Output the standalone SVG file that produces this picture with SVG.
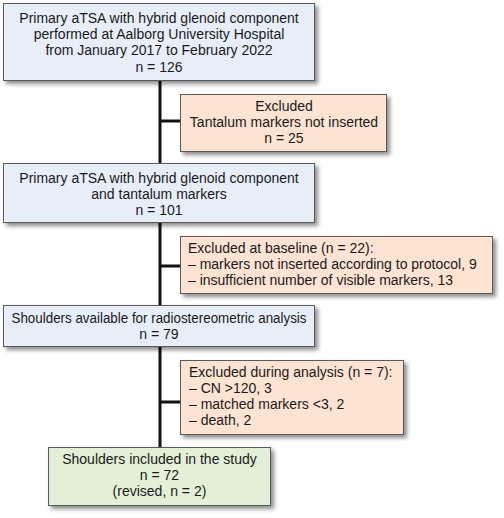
<svg xmlns="http://www.w3.org/2000/svg" width="504" height="518" viewBox="0 0 504 518">
<defs>
<filter id="sh" x="-10%" y="-10%" width="125%" height="135%">
<feDropShadow dx="3" dy="3" stdDeviation="2" flood-color="#000" flood-opacity="0.45"/>
</filter>
<style>
.box{stroke:#5a5a5a;stroke-width:1;filter:url(#sh)}
.blue{fill:#e7eef8}
.orange{fill:#fde3d2}
.green{fill:#e3efd7}
text{font-family:"Liberation Sans",Arial,sans-serif;font-size:14px;fill:#1a1a1a}
.c{text-anchor:middle}
.conn{stroke:#111;stroke-width:3;fill:none}
</style>
</defs>
<rect width="504" height="518" fill="#fff"/>
<g id="connectors">
<path class="conn" d="M160 81V447"/>
<path class="conn" d="M160 121H180"/>
<path class="conn" d="M160 266H180"/>
<path class="conn" d="M160 402H180"/>
</g>
<g id="n1">
<rect class="box blue" x="3.5" y="3.5" width="311" height="77"/>
<text class="c" x="159" y="23">Primary aTSA with hybrid glenoid component</text>
<text class="c" x="159" y="39">performed at Aalborg University Hospital</text>
<text class="c" x="159" y="55">from January 2017 to February 2022</text>
<text class="c" x="159" y="72">n = 126</text>
</g>
<g id="e1">
<rect class="box orange" x="180.5" y="94.5" width="206" height="57"/>
<text class="c" x="284" y="111">Excluded</text>
<text class="c" x="284" y="127">Tantalum markers not inserted</text>
<text class="c" x="284" y="143">n = 25</text>
</g>
<g id="n2">
<rect class="box blue" x="3.5" y="163.5" width="311" height="59"/>
<text class="c" x="159" y="183">Primary aTSA with hybrid glenoid component</text>
<text class="c" x="159" y="198.5">and tantalum markers</text>
<text class="c" x="159" y="214.5">n = 101</text>
</g>
<g id="e2">
<rect class="box orange" x="180.5" y="236.5" width="312" height="57"/>
<text x="188" y="253">Excluded at baseline (n = 22):</text>
<text x="188" y="268.5">– markers not inserted according to protocol, 9</text>
<text x="188" y="284.5">– insufficient number of visible markers, 13</text>
</g>
<g id="n3">
<rect class="box blue" x="3.5" y="305.5" width="311" height="41"/>
<text class="c" x="159" y="322.5" textLength="295" lengthAdjust="spacingAndGlyphs">Shoulders available for radiostereometric analysis</text>
<text class="c" x="159" y="338.5">n = 79</text>
</g>
<g id="e3">
<rect class="box orange" x="180.5" y="360.5" width="223" height="74"/>
<text x="189" y="376.5">Excluded during analysis (n = 7):</text>
<text x="189" y="392.5">– CN &gt;120, 3</text>
<text x="189" y="408.5">– matched markers &lt;3, 2</text>
<text x="189" y="424.5">– death, 2</text>
</g>
<g id="n4">
<rect class="box green" x="48.5" y="447.5" width="222" height="58"/>
<text class="c" x="159.5" y="463.5">Shoulders included in the study</text>
<text class="c" x="159.5" y="479.5">n = 72</text>
<text class="c" x="159.5" y="496">(revised, n = 2)</text>
</g>
</svg>
